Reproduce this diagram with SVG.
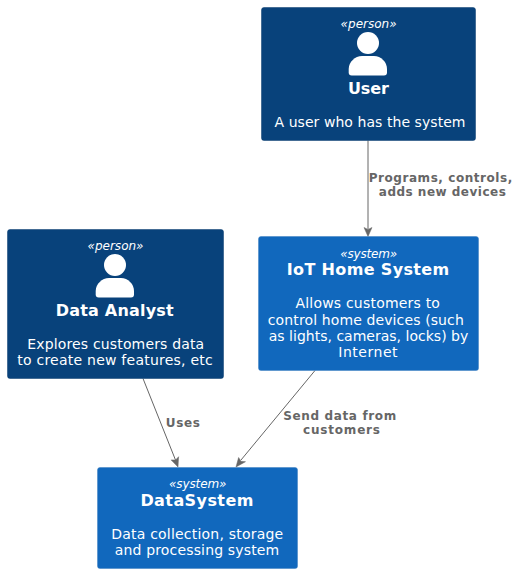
<svg xmlns="http://www.w3.org/2000/svg" width="523" height="573" viewBox="0 0 523 573">
<style>
text{font-family:"DejaVu Sans",sans-serif;text-anchor:middle;fill:#fff}
.st{font-size:12px;font-style:italic}
.nm{font-size:16px;font-weight:bold}
.ds{font-size:14px}
.lb{font-size:12px;font-weight:bold;fill:#666}
.person{fill:#08427B;stroke:#073B6F;stroke-width:.5}
.system{fill:#1168BD;stroke:#3C7FC0;stroke-width:.5}
.conn{stroke:#666;fill:none;stroke-width:1}
.head{fill:#666;stroke:#666;stroke-width:.5}
.icon{fill:#fff}
</style>
<rect width="523" height="573" fill="#fff"/>
<g id="connectors">
<path class="conn" d="M368,140.500V229"/><path class="head" d="M368,236.500l-4,-9l4,2l4,-2z"/>
<path class="conn" d="M143,378.500L175.500,460"/><path class="head" d="M178,467l-6.900,-7.100l4.500,.1l3,-3.300z"/>
<path class="conn" d="M315,370.500L241,460"/><path class="head" d="M236,467l2.600,-9.500l2.400,3.800l4.500,.4z"/>
<text class="lb" x="440.500" y="182" textLength="143.500">Programs, controls,</text>
<text class="lb" x="442.300" y="196" textLength="127">adds new devices</text>
<text class="lb" x="182.800" y="427" textLength="34">Uses</text>
<text class="lb" x="339.700" y="420" textLength="113">Send data from</text>
<text class="lb" x="341.500" y="434" textLength="77">customers</text>
</g>
<g id="user">
<rect class="person" x="261.500" y="7.500" width="214" height="133" rx="2.500"/>
<text class="st" x="368.600" y="28" textLength="56">«person»</text>
<circle class="icon" cx="368" cy="43" r="11"/>
<path class="icon" d="M348.700,72.500V69c0,-7 6.300,-13 13.300,-13h12c7,0 13,6 13,13v3.500q0,3 -3,3h-32.300q-3,0 -3,-3z"/>
<text class="nm" x="368.400" y="94" textLength="41">User</text>
<text class="ds" x="370" y="127" textLength="191">A user who has the system</text>
</g>
<g id="analyst">
<rect class="person" x="7.500" y="229.500" width="216" height="149" rx="2.500"/>
<text class="st" x="115.500" y="250" textLength="56">«person»</text>
<circle class="icon" cx="115" cy="265" r="11"/>
<path class="icon" d="M95.700,294.500V291c0,-7 6.300,-13 13.300,-13h12c7,0 13,6 13,13v3.500q0,3 -3,3h-32.300q-3,0 -3,-3z"/>
<text class="nm" x="114.700" y="316" textLength="118">Data Analyst</text>
<text class="ds" x="115.700" y="349" textLength="177">Explores customers data</text>
<text class="ds" x="115" y="365" textLength="195.500">to create new features, etc</text>
</g>
<g id="iot">
<rect class="system" x="258.500" y="236.500" width="220" height="134" rx="2.500"/>
<text class="st" x="368.700" y="258" textLength="57">«system»</text>
<text class="nm" x="368" y="275" textLength="162.500">IoT Home System</text>
<text class="ds" x="367.700" y="308" textLength="144.500">Allows customers to</text>
<text class="ds" x="365.800" y="325" textLength="196">control home devices (such</text>
<text class="ds" x="368.500" y="341" textLength="199.500">as lights, cameras, locks) by</text>
<text class="ds" x="367.900" y="357" textLength="59.300">Internet</text>
</g>
<g id="datasystem">
<rect class="system" x="97.500" y="467.500" width="200" height="101" rx="2.500"/>
<text class="st" x="197.700" y="488" textLength="57.500">«system»</text>
<text class="nm" x="196.900" y="506" textLength="113">DataSystem</text>
<text class="ds" x="197.200" y="539" textLength="172">Data collection, storage</text>
<text class="ds" x="197" y="555" textLength="164.500">and processing system</text>
</g>
</svg>
